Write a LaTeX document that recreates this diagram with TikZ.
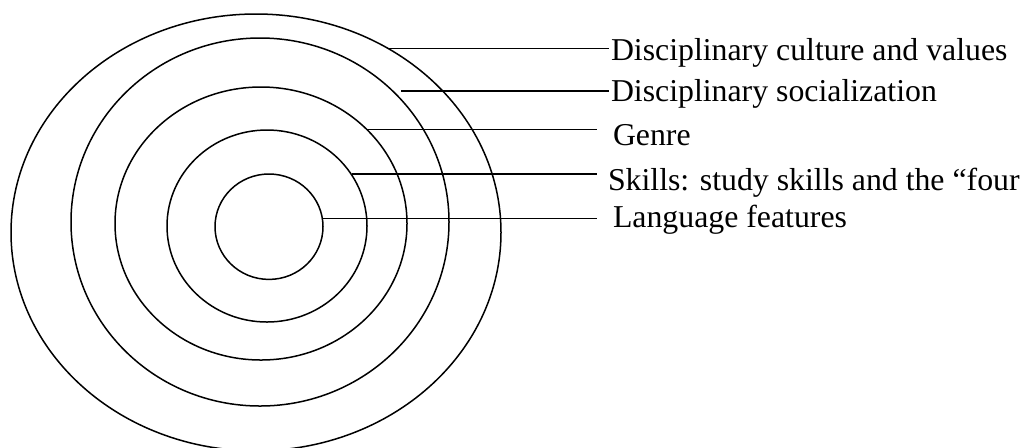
\documentclass[tikz,border=0pt]{standalone}
\usepackage{fontspec}
\setmainfont{Liberation Serif}
\usetikzlibrary{shapes.geometric}
\begin{document}
\begin{tikzpicture}[x=0.5pt,y=-0.5pt,
  ring/.style={draw=black,line width=0.75pt,ellipse,inner sep=0pt,outer sep=0pt},
  leader/.style={draw=black,line width=0.8pt},
  lbl/.style={anchor=base west,inner sep=0pt,outer sep=0pt,font=\fontsize{15.9}{19}\selectfont}]
\useasboundingbox (0,0) rectangle (1021,447);
% rings
\node[ring,minimum width=245pt,minimum height=218.4pt] (e1) at (256,232.4) {};
\node[ring,minimum width=189pt,minimum height=184pt] (e2) at (260,222) {};
\node[ring,minimum width=146pt,minimum height=136.5pt] (e3) at (261,223.5) {};
\node[ring,minimum width=100pt,minimum height=96pt] (e4) at (267,226) {};
\node[ring,minimum width=54pt,minimum height=52.7pt] (e5) at (269,226.7) {};
% labels
\node[lbl] (t1) at (611,60) {Disciplinary culture and values};
\node[lbl] (t2) at (611,101) {Disciplinary socialization};
\node[lbl] (t3) at (613,145) {Genre};
\node[lbl] (t4) at (608,190) {Skills: study skills and the “four};
\node[lbl] (t5) at (613,227) {Language features};
% leader end points
\coordinate (s1) at (387,48.3);   \coordinate (f1) at (609,48.3);
\coordinate (s2) at (401,91);     \coordinate (f2) at (609,91);
\coordinate (s3) at (366,129.3);  \coordinate (f3) at (596.5,129.3);
\coordinate (s4) at (352,174);    \coordinate (f4) at (596.5,174);
\coordinate (s5) at (323,218.3);  \coordinate (f5) at (596.5,218.3);
\draw[leader] (s1) -- (f1);
\draw[leader] (s2) -- (f2);
\draw[leader] (s3) -- (f3);
\draw[leader] (s4) -- (f4);
\draw[leader] (s5) -- (f5);
\end{tikzpicture}
\end{document}
